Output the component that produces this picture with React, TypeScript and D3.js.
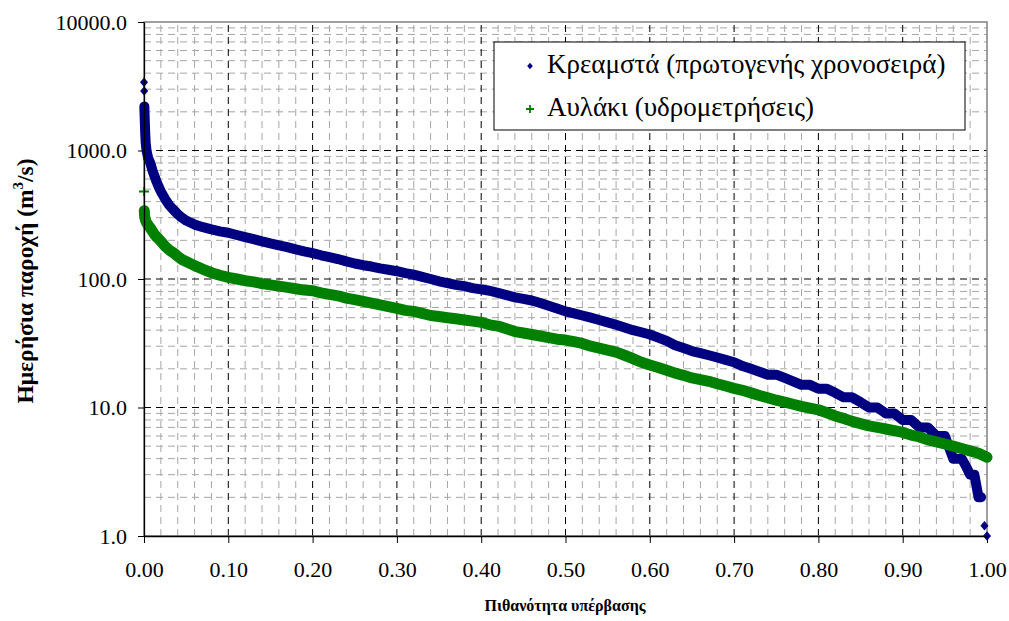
import React, { useEffect, useRef } from "react";
import * as d3 from "d3";

const WIDTH = 1009;
const HEIGHT = 621;
const margin = { top: 22, right: 22, bottom: 85, left: 144 };

// exceedance probability / daily discharge (m3/s)
const kremastaP = [
  0, 0.0002, 0.0004, 0.0008, 0.0012, 0.0016, 0.002, 0.003, 0.004, 0.005, 0.0075, 0.01, 0.0125, 0.015, 0.0175,
  0.02, 0.025, 0.03, 0.035, 0.04, 0.045, 0.05, 0.06, 0.07, 0.08, 0.09, 0.1, 0.11, 0.12, 0.13, 0.14, 0.15, 0.16,
  0.17, 0.18, 0.19, 0.2, 0.21, 0.22, 0.23, 0.24, 0.25, 0.26, 0.27, 0.28, 0.29, 0.3, 0.31, 0.32, 0.33, 0.34, 0.35,
  0.36, 0.37, 0.38, 0.39, 0.4, 0.41, 0.42, 0.43, 0.44, 0.45, 0.46, 0.47, 0.48, 0.49, 0.5, 0.51, 0.52, 0.53, 0.54,
  0.55, 0.56, 0.57, 0.58, 0.59, 0.6, 0.61, 0.62, 0.63, 0.64, 0.65, 0.66, 0.67, 0.68, 0.69, 0.7, 0.71, 0.72, 0.73,
  0.74, 0.75, 0.76, 0.77, 0.78, 0.79, 0.8, 0.81, 0.82, 0.83, 0.84, 0.85, 0.86, 0.87, 0.88, 0.89, 0.9, 0.91, 0.92,
  0.93, 0.94, 0.95, 0.96, 0.97, 0.975, 0.98, 0.985, 0.99, 0.993, 0.997, 1.0,
];
const kremastaQ = [
  3400, 2900, 2200, 1800, 1500, 1300, 1150, 1000, 930, 870, 800, 700, 630, 570, 520,
  480, 420, 375, 345, 320, 300, 285, 265, 253, 243, 235, 229, 220, 212, 204, 196, 189, 183,
  177, 170, 164, 159, 153, 148, 143, 137, 132, 128, 125, 121, 118, 115, 111, 108, 104, 100, 96,
  93, 90, 88, 85, 83, 81, 78, 75, 72, 70, 68, 65, 62, 59, 56, 54, 52, 50, 48,
  46, 44, 42, 40, 38.5, 37, 35, 33, 30.5, 29, 27.5, 26.5, 25.5, 24.5, 23.5, 22.5, 21, 20, 19,
  18, 18, 17, 16, 15, 15, 14, 14, 13, 12, 12, 11, 10, 10, 9, 9, 8, 8, 7,
  7, 6, 6, 4, 4, 3.5, 3, 3, 2, 2, 1.2, 1,
];

const avlakiP = [
  0, 0.0003, 0.0006, 0.001, 0.002, 0.003, 0.005, 0.0075, 0.01, 0.0125, 0.015, 0.0175, 0.02, 0.025, 0.03,
  0.035, 0.04, 0.045, 0.05, 0.06, 0.07, 0.08, 0.09, 0.1, 0.11, 0.12, 0.13, 0.14, 0.15, 0.16, 0.17, 0.18, 0.19,
  0.2, 0.21, 0.22, 0.23, 0.24, 0.25, 0.26, 0.27, 0.28, 0.29, 0.3, 0.31, 0.32, 0.33, 0.34, 0.35, 0.36, 0.37, 0.38,
  0.39, 0.4, 0.41, 0.42, 0.43, 0.44, 0.45, 0.46, 0.47, 0.48, 0.49, 0.5, 0.51, 0.52, 0.53, 0.54, 0.55, 0.56, 0.57,
  0.58, 0.59, 0.6, 0.61, 0.62, 0.63, 0.64, 0.65, 0.66, 0.67, 0.68, 0.69, 0.7, 0.71, 0.72, 0.73, 0.74, 0.75, 0.76,
  0.77, 0.78, 0.79, 0.8, 0.81, 0.82, 0.83, 0.84, 0.85, 0.86, 0.87, 0.88, 0.89, 0.9, 0.91, 0.92, 0.93, 0.94, 0.95,
  0.96, 0.97, 0.98, 0.99, 1.0,
];
const avlakiQ = [
  480, 340, 315, 300, 285, 275, 262, 250, 235, 222, 212, 205, 197, 180, 168,
  160, 150, 142, 137, 127, 119, 112, 107, 103, 100, 97, 95, 92, 90, 88, 86, 84, 82,
  81, 78, 76, 74, 71, 69, 67, 65, 63, 61, 59, 57, 56, 54, 52, 51, 50, 49, 48,
  47, 46, 44, 43, 41, 39, 38, 37, 36, 35, 34, 33.5, 32.5, 31.5, 30, 29, 28, 27, 25.5,
  24, 22.5, 21.4, 20.5, 19.5, 18.5, 17.8, 17, 16.5, 16, 15.3, 14.7, 14.1, 13.6, 13, 12.4, 11.9, 11.4, 11,
  10.6, 10.2, 9.9, 9.6, 9.1, 8.6, 8.2, 7.8, 7.5, 7.2, 7, 6.8, 6.6, 6.4, 6.1, 5.9, 5.6, 5.4, 5.2,
  5.0, 4.8, 4.6, 4.4, 4.1,
];

const seriesNames = ["Κρεαμστά (πρωτογενής χρονοσειρά)", "Αυλάκι (υδρομετρήσεις)"];
const seriesColors = ["#000080", "#008000"];

const xTicks = [0, 0.1, 0.2, 0.3, 0.4, 0.5, 0.6, 0.7, 0.8, 0.9, 1.0];
const yTicks = [1, 10, 100, 1000, 10000];

const xTitle = "Πιθανότητα υπέρβασης";
const yTitle = "Ημερήσια παροχή (m";
const yTitleEnd = "/s)";

const FONT = "Liberation Serif, DejaVu Serif, Times New Roman, serif";

// diamond a bit wider than d3's own
const diamond = {
  draw(ctx: any, size: number) {
    const h = Math.sqrt(size) / 2;
    const w = h * 0.85;
    ctx.moveTo(0, -h);
    ctx.lineTo(w, 0);
    ctx.lineTo(0, h);
    ctx.lineTo(-w, 0);
    ctx.closePath();
  },
};

export default function App() {
  const xAxisRef = useRef<SVGGElement>(null);
  const yAxisRef = useRef<SVGGElement>(null);

  const innerW = WIDTH - margin.left - margin.right;
  const innerH = HEIGHT - margin.top - margin.bottom;

  const x = d3.scaleLinear().domain([0, 1]).range([margin.left, margin.left + innerW]);
  const y = d3.scaleLog().domain([1, 10000]).range([margin.top + innerH, margin.top]);

  const xMinor = x.ticks(50);
  const yMinor = y.ticks().filter((v) => !yTicks.includes(v));

  const series = [
    { name: seriesNames[0], color: seriesColors[0], pts: kremastaP.map((p, i) => [p, kremastaQ[i]]), band: [2, kremastaP.length - 2] },
    { name: seriesNames[1], color: seriesColors[1], pts: avlakiP.map((p, i) => [p, avlakiQ[i]]), band: [1, avlakiP.length] },
  ];

  const line = d3
    .line<number[]>()
    .x((d) => x(d[0]))
    .y((d) => y(d[1]));

  const diamondPath = d3.symbol(diamond as any, 90)() as string;

  useEffect(() => {
    const gx = d3.select(xAxisRef.current);
    gx.call(
      d3.axisBottom(x).tickValues(xTicks).tickFormat(d3.format(".2f")).tickSize(7).tickSizeOuter(0).tickPadding(18)
    );
    gx.select(".domain").attr("stroke", "#000").attr("stroke-width", 1.3);
    gx.selectAll("line").attr("stroke", "#000");
    gx.selectAll("text").attr("font-family", FONT).attr("font-size", 22).attr("fill", "#000");

    const gy = d3.select(yAxisRef.current);
    gy.call(
      d3.axisLeft(y).tickValues(yTicks).tickFormat(d3.format(".1f")).tickSize(6).tickSizeOuter(0).tickPadding(11)
    );
    gy.select(".domain").attr("stroke", "#000").attr("stroke-width", 1.3);
    gy.selectAll("line").attr("stroke", "#000");
    gy.selectAll("text").attr("font-family", FONT).attr("font-size", 22).attr("fill", "#000");
  }, []);

  const top = margin.top;
  const bottom = margin.top + innerH;
  const left = margin.left;
  const right = margin.left + innerW;

  return (
    <svg
      width={WIDTH}
      height={HEIGHT}
      style={{ position: "absolute", left: 0, top: 0, background: "#fff", fontFamily: FONT }}
    >
      <rect x={0} y={0} width={WIDTH} height={HEIGHT} fill="#fff" />

      {/* minor grid */}
      <g stroke="#a6a6a6" strokeWidth={1} strokeDasharray="7,5" fill="none">
        {xMinor.filter((v) => !xTicks.some((t) => Math.abs(t - v) < 1e-9)).map((v, i) => (
          <line key={"xm" + i} x1={x(v)} x2={x(v)} y1={bottom} y2={top} />
        ))}
        {yMinor.map((v, i) => (
          <line key={"ym" + i} x1={left} x2={right} y1={y(v)} y2={y(v)} />
        ))}
      </g>
      {/* major grid */}
      <g stroke="#000" strokeWidth={1} strokeDasharray="7,5" fill="none">
        {xTicks.slice(1, -1).map((v, i) => (
          <line key={"xM" + i} x1={x(v)} x2={x(v)} y1={bottom} y2={top} />
        ))}
        {yTicks.slice(1, -1).map((v, i) => (
          <line key={"yM" + i} x1={left} x2={right} y1={y(v)} y2={y(v)} />
        ))}
      </g>

      {/* plot frame */}
      <rect x={left} y={top} width={innerW} height={innerH} fill="none" stroke="#808080" strokeWidth={1.5} />

      {/* series: dense markers drawn as a band plus the marker glyphs */}
      {series.map((s, si) => (
        <g key={"s" + si}>
          <path
            d={line(s.pts.slice(s.band[0], s.band[1])) as string}
            fill="none"
            stroke={s.color}
            strokeWidth={si === 0 ? 10 : 11}
            strokeLinejoin="round"
            strokeLinecap="round"
          />
          {s.pts.map((d, i) =>
            si === 0 ? (
              <path key={i} d={diamondPath} transform={`translate(${x(d[0])},${y(d[1])})`} fill={s.color} />
            ) : (
              <path
                key={i}
                d="M-5,0H5M0,-4.5V4.5"
                transform={`translate(${x(d[0])},${y(d[1])})`}
                stroke={s.color}
                strokeWidth={2}
                fill="none"
              />
            )
          )}
        </g>
      ))}

      <g ref={xAxisRef} transform={`translate(0,${bottom})`} />
      <g ref={yAxisRef} transform={`translate(${left},0)`} />

      {/* legend */}
      <g>
        <rect x={494} y={42} width={471} height={88} fill="#fff" stroke="#000" strokeWidth={1} />
        <path d={d3.symbol(diamond as any, 44)() as string} transform="translate(530,66)" fill={seriesColors[0]} />
        <text x={547} y={73} fontSize={27} fill="#000">
          {seriesNames[0]}
        </text>
        <path d="M-4,0H4M0,-4V4" transform="translate(530,109)" stroke={seriesColors[1]} strokeWidth={1.8} fill="none" />
        <text x={547} y={116} fontSize={27} fill="#000">
          {seriesNames[1]}
        </text>
      </g>

      {/* axis titles */}
      <text x={565} y={611} textAnchor="middle" fontSize={16} fontWeight="bold" fill="#000">
        {xTitle}
      </text>
      <text transform="translate(33,281) rotate(-90)" textAnchor="middle" fontSize={23.5} fontWeight="bold" fill="#000">
        {yTitle}
        <tspan dy={-10} fontSize={15}>3</tspan>
        <tspan dy={10}>{yTitleEnd}</tspan>
      </text>
    </svg>
  );
}
